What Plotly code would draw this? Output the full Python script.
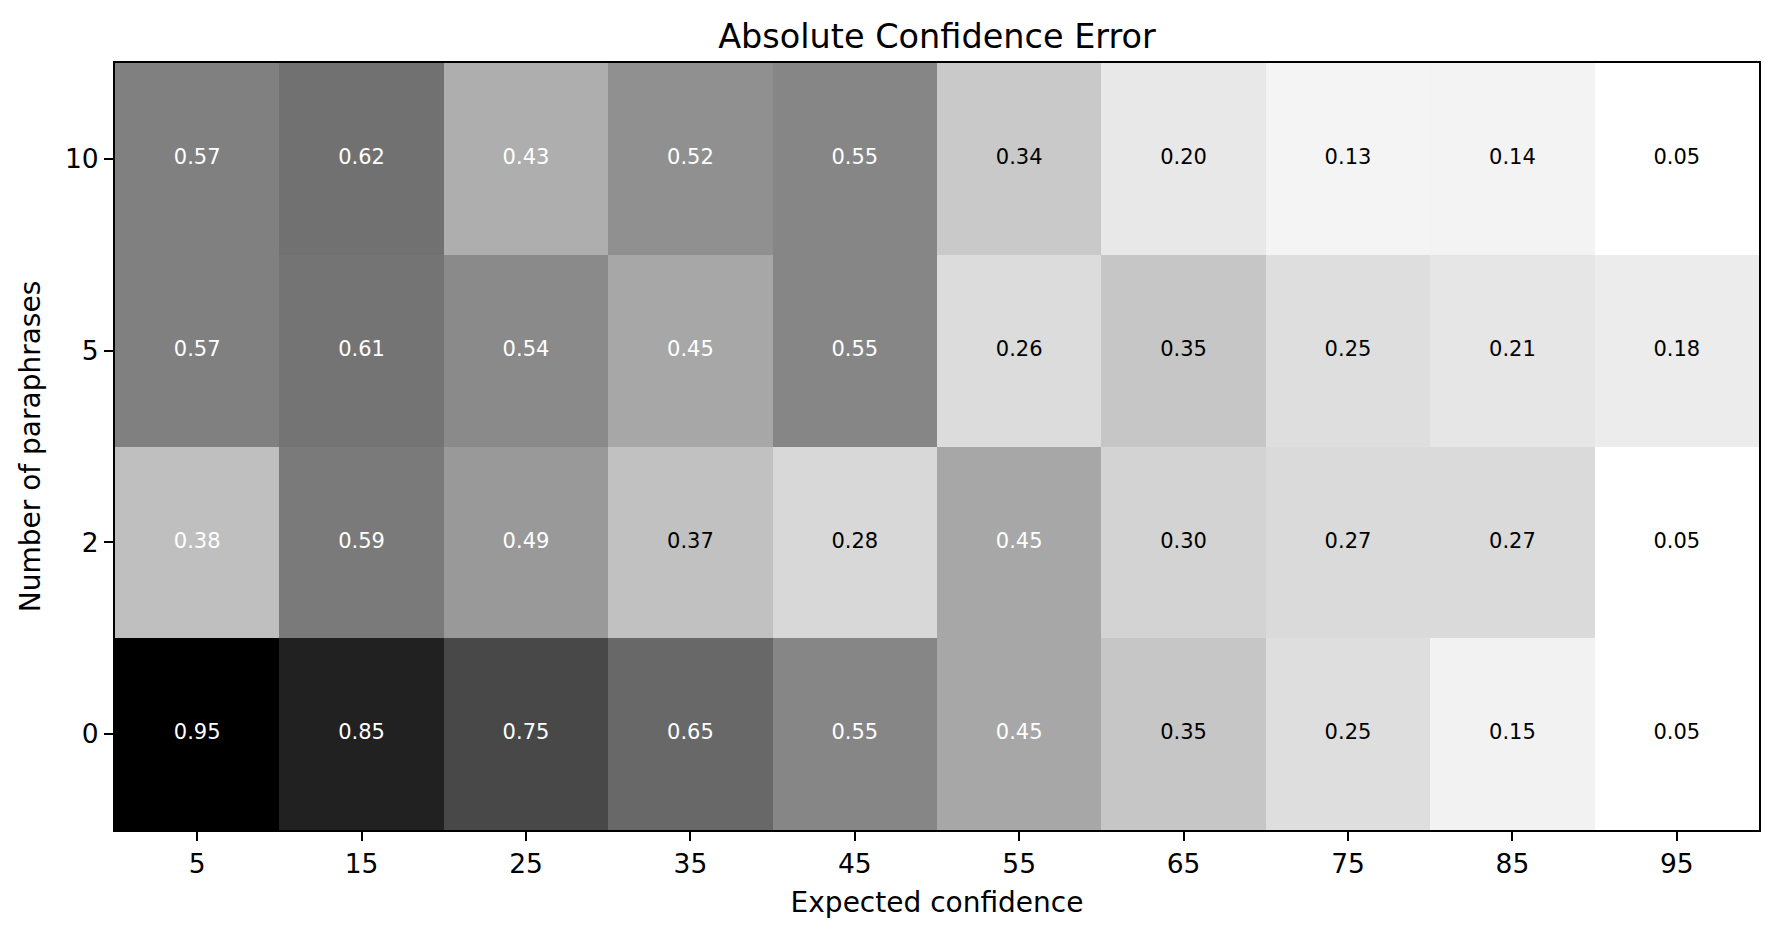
import plotly.graph_objects as go

# data
expected_conf = ["5", "15", "25", "35", "45", "55", "65", "75", "85", "95"]
n_paraphrases = ["0", "2", "5", "10"]

err_0 = [0.95, 0.85, 0.75, 0.65, 0.55, 0.45, 0.35, 0.25, 0.15, 0.05]
err_2 = [0.38, 0.59, 0.49, 0.37, 0.28, 0.45, 0.30, 0.27, 0.27, 0.05]
err_5 = [0.57, 0.61, 0.54, 0.45, 0.55, 0.26, 0.35, 0.25, 0.21, 0.18]
err_10 = [0.57, 0.62, 0.43, 0.52, 0.55, 0.34, 0.20, 0.13, 0.14, 0.05]

z = [err_0, err_2, err_5, err_10]

# matplotlib "Greys"
greys = ["#ffffff", "#f0f0f0", "#d9d9d9", "#bdbdbd", "#969696",
         "#737373", "#525252", "#252525", "#000000"]
colorscale = [[i / (len(greys) - 1), c] for i, c in enumerate(greys)]

FONT = "DejaVu Sans"

fig = go.Figure(go.Heatmap(
    x=expected_conf, y=n_paraphrases, z=z,
    colorscale=colorscale, zmin=0.05, zmax=0.95,
    showscale=False, hoverinfo="skip",
))

# cell labels
tx, ty, tt, tc = [], [], [], []
for row, yv in zip(z, n_paraphrases):
    for v, xv in zip(row, expected_conf):
        tx.append(xv)
        ty.append(yv)
        tt.append(f"{v:.2f}")
        tc.append("white" if v >= 0.38 else "black")

fig.add_trace(go.Scatter(
    x=tx, y=ty, text=tt, mode="text",
    textfont=dict(family=FONT, size=21, color=tc),
    hoverinfo="skip", showlegend=False,
))

# page body has an 8px margin, so keep the figure inside the window
fig.update_layout(
    width=1764, height=922,
    margin=dict(l=107, r=11, t=55, b=100),
    paper_bgcolor="white", plot_bgcolor="white",
    font=dict(family=FONT, color="black"),
    title=dict(text="Absolute Confidence Error", x=0.5, xref="paper", xanchor="center",
               y=1 - 28 / 922, yref="container", yanchor="middle",
               font=dict(family=FONT, size=33.5, color="black")),
    showlegend=False,
)

axis_style = dict(
    showline=True, mirror=True, linecolor="black", linewidth=2,
    ticks="outside", ticklen=9, tickwidth=2, tickcolor="black",
    tickfont=dict(family=FONT, size=26.5, color="black"),
    showgrid=False, zeroline=False, type="category", tickangle=0,
)
fig.update_xaxes(**axis_style, range=[-0.5, len(expected_conf) - 0.5],
                 title=dict(text="Expected confidence", standoff=15,
                            font=dict(family=FONT, size=28, color="black")))
fig.update_yaxes(**axis_style, range=[-0.5, len(n_paraphrases) - 0.5],
                 title=dict(text="Number of paraphrases", standoff=16,
                            font=dict(family=FONT, size=28, color="black")))

fig.write_html("out.html")
